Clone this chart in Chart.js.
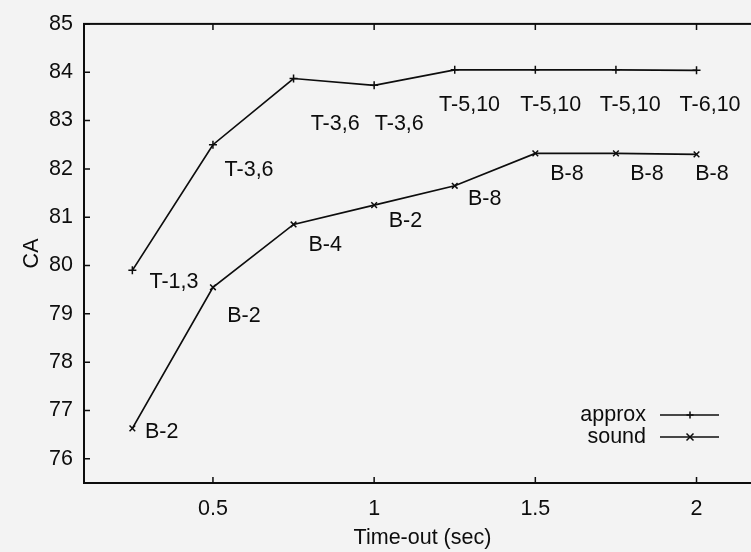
<!DOCTYPE html>
<html><head><meta charset="utf-8">
<script src="https://cdn.jsdelivr.net/npm/chart.js@4.4.0/dist/chart.umd.min.js"></script>
<style>
html,body{margin:0;padding:0;overflow:hidden;background:#f3f3f3;width:751px;height:552px}
#wrap{position:absolute;left:0;top:0;width:761px;height:552px}
</style></head><body>
<div id="wrap"><canvas id="c" width="761" height="552"></canvas></div>
<script>
const timeouts = [0.25, 0.5, 0.75, 1.0, 1.25, 1.5, 1.75, 2.0];
const approxCA = [79.9, 82.5, 83.87, 83.73, 84.05, 84.05, 84.05, 84.04];
const soundCA  = [76.63, 79.55, 80.85, 81.25, 81.65, 82.32, 82.32, 82.3];
const approxNotes = ['T-1,3','T-3,6','T-3,6','T-3,6','T-5,10','T-5,10','T-5,10','T-6,10'];
const soundNotes  = ['B-2','B-2','B-4','B-2','B-8','B-8','B-8','B-8'];
// label anchors in data coordinates (like gnuplot "set label at x,y")
const approxNoteX = [0.379, 0.612, 0.879, 1.078, 1.296, 1.548, 1.794, 2.042];
const approxNoteY = [79.65, 81.98, 82.92, 82.92, 83.31, 83.31, 83.31, 83.31];
const soundNoteX  = [0.341, 0.596, 0.848, 1.097, 1.343, 1.598, 1.846, 2.048];
const soundNoteY  = [76.56, 78.95, 80.43, 80.93, 81.38, 81.89, 81.89, 81.89];
const xTicks = [0.5, 1, 1.5, 2];
const yTicks = [76, 77, 78, 79, 80, 81, 82, 83, 84, 85];
const seriesNames = ['approx', 'sound'];

const FONT = {family: '"Liberation Sans", Arial, Helvetica, sans-serif', size: 21.5};
const INK = '#0d0d0d';

function drawMarker(ctx, style, x, y, r) {
  ctx.beginPath();
  if (style === 'cross') {
    ctx.moveTo(x - r, y); ctx.lineTo(x + r, y);
    ctx.moveTo(x, y - r); ctx.lineTo(x, y + r);
  } else {
    ctx.moveTo(x - r, y - r); ctx.lineTo(x + r, y + r);
    ctx.moveTo(x - r, y + r); ctx.lineTo(x + r, y - r);
  }
  ctx.stroke();
}

const decor = {
  id: 'decor',
  afterDatasetsDraw(chart) {
    const {ctx, chartArea: a, scales: {x, y}} = chart;
    ctx.save();
    ctx.strokeStyle = INK;
    ctx.lineWidth = 2;
    ctx.strokeRect(a.left, a.top, a.right - a.left, a.bottom - a.top);
    ctx.lineWidth = 1.5;
    const t = 6;
    ctx.beginPath();
    xTicks.forEach(v => {
      const px = x.getPixelForValue(v);
      ctx.moveTo(px, a.bottom); ctx.lineTo(px, a.bottom - t);
      ctx.moveTo(px, a.top); ctx.lineTo(px, a.top + t);
    });
    yTicks.forEach(v => {
      const py = y.getPixelForValue(v);
      ctx.moveTo(a.left, py); ctx.lineTo(a.left + t, py);
      ctx.moveTo(a.right, py); ctx.lineTo(a.right - t, py);
    });
    ctx.stroke();
    // point annotations
    ctx.fillStyle = INK;
    ctx.font = FONT.size + 'px ' + FONT.family;
    ctx.textAlign = 'center';
    ctx.textBaseline = 'middle';
    approxNotes.forEach((s, i) => ctx.fillText(s, x.getPixelForValue(approxNoteX[i]), y.getPixelForValue(approxNoteY[i])));
    soundNotes.forEach((s, i) => ctx.fillText(s, x.getPixelForValue(soundNoteX[i]), y.getPixelForValue(soundNoteY[i])));
    // legend
    chart.data.datasets.forEach((ds, i) => {
      const ly = a.bottom - 68 + i * 22;
      ctx.textAlign = 'right';
      ctx.fillText(ds.label, a.right - 115, ly);
      ctx.lineWidth = 1.5;
      ctx.beginPath();
      ctx.moveTo(a.right - 101, ly); ctx.lineTo(a.right - 42, ly);
      ctx.stroke();
      drawMarker(ctx, ds.pointStyle, a.right - 71, ly, 3.5);
    });
    ctx.restore();
  }
};

new Chart(document.getElementById('c'), {
  type: 'line',
  data: {
    datasets: [
      {label: seriesNames[0], data: timeouts.map((t, i) => ({x: t, y: approxCA[i]})),
       borderColor: INK, borderWidth: 1.7, pointStyle: 'cross', pointRadius: 4,
       pointBorderColor: INK, pointBorderWidth: 1.5, tension: 0, fill: false},
      {label: seriesNames[1], data: timeouts.map((t, i) => ({x: t, y: soundCA[i]})),
       borderColor: INK, borderWidth: 1.7, pointStyle: 'crossRot', pointRadius: 4,
       pointBorderColor: INK, pointBorderWidth: 1.5, tension: 0, fill: false}
    ]
  },
  options: {
    responsive: false,
    animation: false,
    devicePixelRatio: 1,
    layout: {autoPadding: false, padding: {top: 21, left: 0, right: 0, bottom: 0}},
    plugins: {legend: {display: false}, tooltip: {enabled: false}},
    scales: {
      x: {
        type: 'linear', min: 0.1, max: 2.2,
        afterBuildTicks: s => { s.ticks = xTicks.map(v => ({value: v})); },
        afterFit: s => { s.height = 69; },
        grid: {display: false, drawTicks: false},
        border: {display: false},
        ticks: {font: FONT, color: INK, padding: 13, maxRotation: 0, callback: v => String(v)},
        title: {display: true, text: 'Time-out (sec)', font: FONT, color: INK, padding: {top: 0, bottom: 1}}
      },
      y: {
        type: 'linear', min: 75.5, max: 85,
        afterBuildTicks: s => { s.ticks = yTicks.map(v => ({value: v})); },
        afterFit: s => { s.width = 84; },
        grid: {display: false, drawTicks: false},
        border: {display: false},
        ticks: {font: FONT, color: INK, padding: 11, callback: v => String(v)},
        title: {display: true, text: 'CA', font: FONT, color: INK, padding: {top: 19, bottom: 0}}
      }
    }
  },
  plugins: [decor]
});
</script>
</body></html>
